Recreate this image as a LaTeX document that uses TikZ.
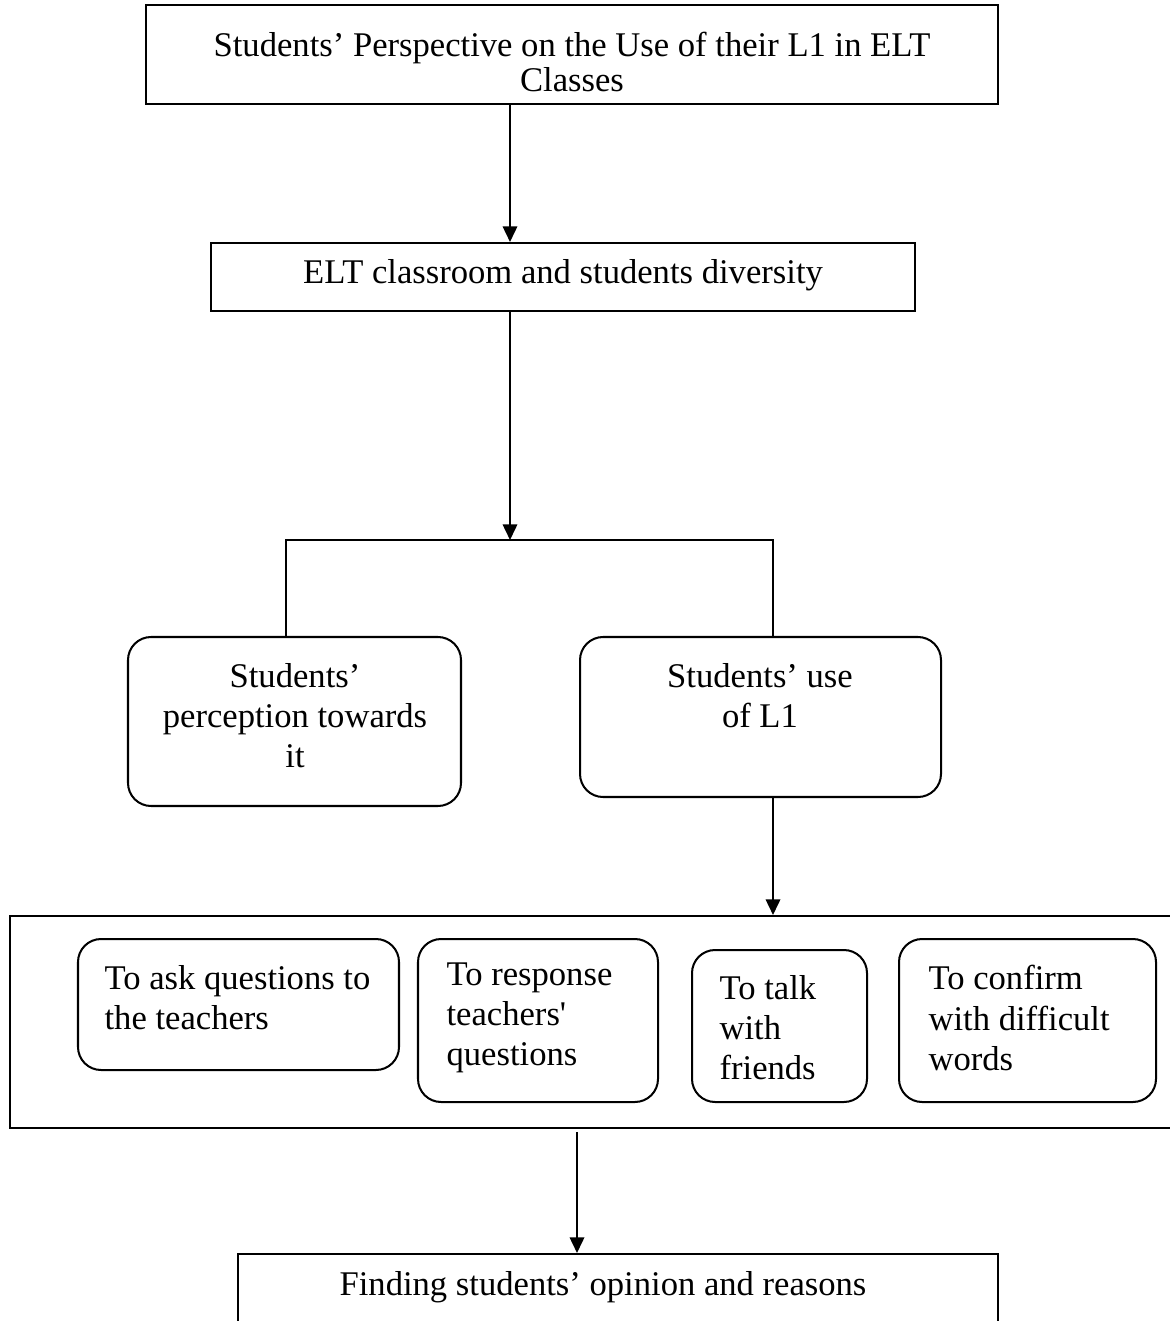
\documentclass[tikz,border=0pt]{standalone}
\usepackage{fontspec}
\setmainfont{Liberation Serif}
\usetikzlibrary{arrows.meta}
\newcommand{\pxl}{0.3467pt}
\tikzset{
  boxsize/.style 2 args = {minimum width=#1*\pxl, minimum height=#2*\pxl},
  sq_box/.style = {draw=black, line width=0.7pt, inner sep=0pt},
  rd_box/.style = {sq_box, rounded corners=8pt},
  txt_c/.style = {inner sep=0pt, align=center, font=\fontsize{12}{13.9}\selectfont},
  txt_l/.style = {inner sep=0pt, align=left, anchor=west, font=\fontsize{12}{13.9}\selectfont},
  arr/.style = {line width=0.7pt, -{Triangle[length=5.4pt, width=5pt]}},
}

\begin{document}
\begin{tikzpicture}[x=\pxl, y=-\pxl]
  \useasboundingbox (0,0) rectangle (1169,1321);
  % boxes
  \node [sq_box, boxsize={852}{99}] (title) at (572,54.5) {};
  \node [sq_box, boxsize={704}{68}] (diversity) at (563,277) {};
  \node [rd_box, boxsize={333}{169}] (percep) at (294.5,721.5) {};
  \node [rd_box, boxsize={361}{160}] (use) at (760.5,717) {};
  \node [sq_box, boxsize={1190}{212}] (group) at (605,1022) {};
  \node [rd_box, boxsize={321}{131}] (ask) at (238.5,1004.5) {};
  \node [rd_box, boxsize={240}{163}] (resp) at (538,1020.5) {};
  \node [rd_box, boxsize={175}{152}] (talk) at (779.5,1026) {};
  \node [rd_box, boxsize={257}{163}] (conf) at (1027.5,1020.5) {};
  \node [sq_box, boxsize={760}{146}] (finding) at (618,1327) {};
  % texts
  \node [txt_c, font=\fontsize{12}{12.1}\selectfont] (t_title) at (572,62)
    {Students’ Perspective on the Use of their L1 in ELT\\Classes};
  \node [txt_c] (t_diversity) at (563,275) {ELT classroom and students diversity};
  \node [txt_c] (t_percep) at (295,716) {Students’\\perception towards\\it};
  \node [txt_c] (t_use) at (760,696) {Students’ use\\of L1};
  \node [txt_l] (t_ask) at (104,997.5) {To ask questions to\\the teachers};
  \node [txt_l] (t_resp) at (446,1018) {To response\\teachers\textquotesingle\\questions};
  \node [txt_l] (t_talk) at (719,1028) {To talk\\with\\friends};
  \node [txt_l] (t_conf) at (928,1018) {To confirm\\with difficult\\words};
  \node [txt_c] (t_finding) at (603,1287) {Finding students’ opinion and reasons};
  % connectors
  \coordinate (fork) at (510,540);
  \coordinate (forkL) at (286,540);
  \coordinate (forkR) at (773,540);
  \coordinate (drop) at (577,1132);
  \draw [arr] (title.south -| fork) -- (diversity.north -| fork);
  \draw [arr] (diversity.south -| fork) -- (fork);
  \draw [line width=0.7pt] (percep.north -| forkL) -- (forkL) -- (forkR) -- (use.north -| forkR);
  \draw [arr] (use.south -| forkR) -- (group.north -| forkR);
  \draw [arr] (drop) -- (finding.north -| drop);
\end{tikzpicture}
\end{document}
